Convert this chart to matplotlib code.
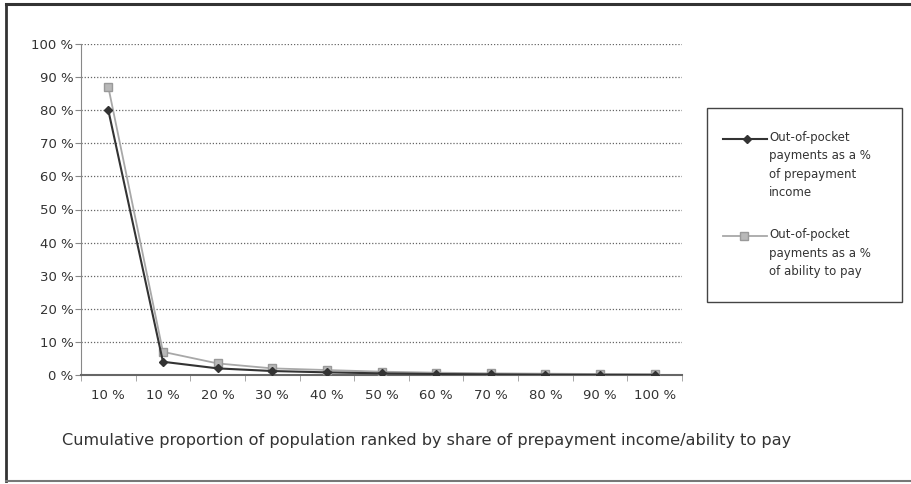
import numpy as np
import matplotlib.pyplot as plt
from matplotlib.patches import Rectangle
from matplotlib.lines import Line2D
from matplotlib.ticker import FuncFormatter

categories = ['10 %', '10 %', '20 %', '30 %', '40 %', '50 %', '60 %', '70 %', '80 %', '90 %', '100 %']
prepayment_income = [80, 4, 2, 1.2, 0.8, 0.5, 0.3, 0.2, 0.1, 0.05, 0.0]
ability_to_pay = [87, 7, 3.5, 2, 1.5, 1, 0.7, 0.5, 0.4, 0.3, 0.3]

label_income = 'Out-of-pocket\npayments as a %\nof prepayment\nincome'
label_ability = 'Out-of-pocket\npayments as a %\nof ability to pay'
xtitle = 'Cumulative proportion of population ranked by share of prepayment income/ability to pay'

plt.rcParams['font.family'] = ['DejaVu Sans']
W, H = 911, 484

fig = plt.figure(figsize=(W / 100, H / 100), dpi=100)
ax = fig.add_axes([81 / W, 1 - 375 / H, 601 / W, 331 / H])

style_income = dict(color='#333333', lw=1.5, marker='D', ms=4.5, mfc='#333333', mec='#333333')
style_ability = dict(color='#a8a8a8', lw=1.3, marker='s', ms=6, mfc='#b8b8b8', mec='#999999')

x = np.arange(len(categories))
ax.plot(x, ability_to_pay, zorder=3, **style_ability)
ax.plot(x, prepayment_income, zorder=4, **style_income)

ax.set_xlim(-0.5, len(categories) - 0.5)
ax.set_ylim(0, 100)
ax.set_yticks(np.arange(0, 101, 10))
ax.yaxis.set_major_formatter(FuncFormatter(lambda v, p: f'{int(v)} %'))
ax.set_xticks(x)
ax.set_xticklabels(categories)
ax.set_xticks(np.arange(-0.5, len(categories), 1), minor=True)
ax.tick_params(axis='x', which='major', length=0, pad=10, labelsize=9.5, colors='#333333')
ax.tick_params(axis='x', which='minor', length=4, color='#999999')
ax.tick_params(axis='y', length=4, pad=1.5, color='#888888', labelsize=9.5, labelcolor='#333333')

ax.grid(axis='y', color='#666666', linestyle=(0, (1, 1.5)), lw=0.9)
ax.set_axisbelow(True)
for side in ['top', 'right']:
    ax.spines[side].set_visible(False)
ax.spines['left'].set_color('#888888')
ax.spines['bottom'].set_color('#666666')
ax.spines['bottom'].set_linewidth(1.5)

# legend box on the right, handles aligned with the first text line
fig.patches.append(Rectangle((707 / W, 1 - 302 / H), 195 / W, 194 / H,
                             transform=fig.transFigure, fill=False,
                             edgecolor='#444444', lw=1.0))
entries = [(label_income, style_income, 139, 747), (label_ability, style_ability, 236, 744)]
for text, st, ypx, mx in entries:
    yf = 1 - ypx / H
    line_st = {k: v for k, v in st.items() if k not in ('marker', 'ms', 'mfc', 'mec')}
    fig.add_artist(Line2D([723 / W, 767 / W], [yf, yf], transform=fig.transFigure, **line_st))
    fig.add_artist(Line2D([mx / W], [yf], transform=fig.transFigure, ls='none',
                          marker=st['marker'], ms=st['ms'], mfc=st['mfc'], mec=st['mec']))
    fig.text(769 / W, 1 - (ypx - 8) / H, text, fontsize=8.5, color='#333333',
             va='top', ha='left', linespacing=1.55)

fig.text(62 / W, 1 - 440 / H, xtitle, fontsize=11.6, color='#333333', va='center', ha='left')

# outer frame: heavy top and left edges, faint bottom edge
fig.add_artist(Line2D([6 / W, 1.0], [1 - 4 / H, 1 - 4 / H], transform=fig.transFigure,
                      color='#333333', lw=2.2))
fig.add_artist(Line2D([6 / W, 6 / W], [1 - 4 / H, 1 - 481 / H], transform=fig.transFigure,
                      color='#333333', lw=2.0))
fig.add_artist(Line2D([6 / W, 1.0], [1 - 481 / H, 1 - 481 / H], transform=fig.transFigure,
                      color='#777777', lw=1.5))

fig.savefig('out.png', dpi=100)
